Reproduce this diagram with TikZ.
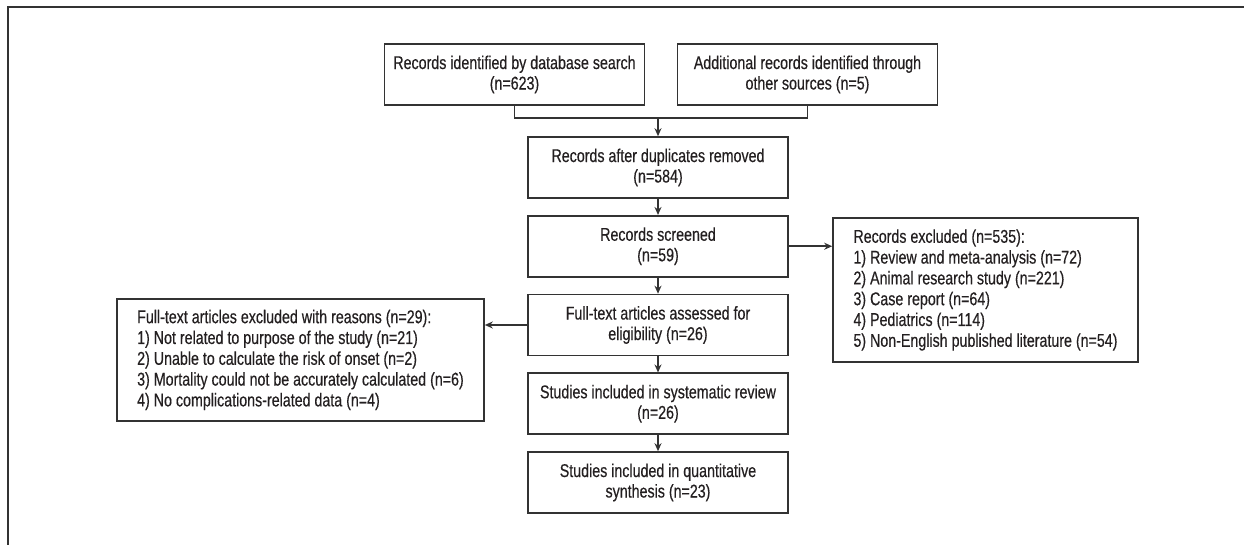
\documentclass[tikz,border=0pt]{standalone}
\usepackage{fontspec}
\setmainfont[FakeStretch=0.77, FakeBold=0.4]{Liberation Sans}
\usetikzlibrary{arrows.meta, positioning}

\definecolor{boxgray}{HTML}{333333}
\definecolor{textgray}{HTML}{231F20}

\begin{document}
\begin{tikzpicture}[x=1pt, y=1pt, auto, line width=1.6pt, node distance=78.75pt, >={Stealth[length=8pt, width=7pt]}]

	% Define styles
	\tikzstyle{stage} = [rectangle, draw=boxgray, text=textgray, align=center, minimum width=260pt, minimum height=61pt, inner sep=2pt, font=\fontsize{18.5}{20.5}\selectfont]
	\tikzstyle{reasons} = [rectangle, draw=boxgray, text=textgray, align=left, inner sep=2pt, font=\fontsize{18.5}{20.8}\selectfont]
	\tikzstyle{flow} = [draw=boxgray, line width=1.6pt]

	\useasboundingbox (0,0) rectangle (1244,545);

	% Frame
	\draw[flow] (8,0) -- (8,538) -- (1244,538);

	% Identification
	\node[stage] (database) at (514.5,470.5) {Records identified by database search\\(n=623)};
	\node[stage, right of=database, node distance=293pt] (other) {Additional records identified through\\other sources (n=5)};

	% Main column
	\node[stage] (dedup) at (658,377.5) {Records after duplicates removed\\(n=584)};
	\node[stage, below of=dedup] (screened) {Records screened\\(n=59)};
	\node[stage, below of=screened] (fulltext) {Full-text articles assessed for\\eligibility (n=26)};
	\node[stage, below of=fulltext] (review) {Studies included in systematic review\\(n=26)};
	\node[stage, below of=review] (synthesis) {Studies included in quantitative\\synthesis (n=23)};

	% Exclusions
	\node[reasons, minimum width=305pt, minimum height=144pt] (excluded) at (985.5,255) {Records excluded (n=535):\\1) Review and meta-analysis (n=72)\\2) Animal research study (n=221)\\3) Case report (n=64)\\4) Pediatrics (n=114)\\5) Non-English published literature (n=54)};
	\node[reasons, minimum width=367pt, minimum height=122pt] (removed) at (300.5,185) {Full-text articles excluded with reasons (n=29):\\1) Not related to purpose of the study (n=21)\\2) Unable to calculate the risk of onset (n=2)\\3) Mortality could not be accurately calculated (n=6)\\4) No complications-related data (n=4)};

	% Arrows
	\coordinate (merge) at ([yshift=18pt]dedup.north);
	\draw[flow] (database.south) |- (merge) -| (other.south);
	\draw[flow, ->] (merge) -- (dedup.north);
	\draw[flow, ->] (dedup.south) -- (screened.north);
	\draw[flow, ->] (screened.south) -- (fulltext.north);
	\draw[flow, ->] (fulltext.south) -- (review.north);
	\draw[flow, ->] (review.south) -- (synthesis.north);
	\draw[flow, ->] (screened.east) -- (screened.east -| excluded.west);
	\draw[flow, ->] (fulltext.west) -- (fulltext.west -| removed.east);

\end{tikzpicture}
\end{document}
